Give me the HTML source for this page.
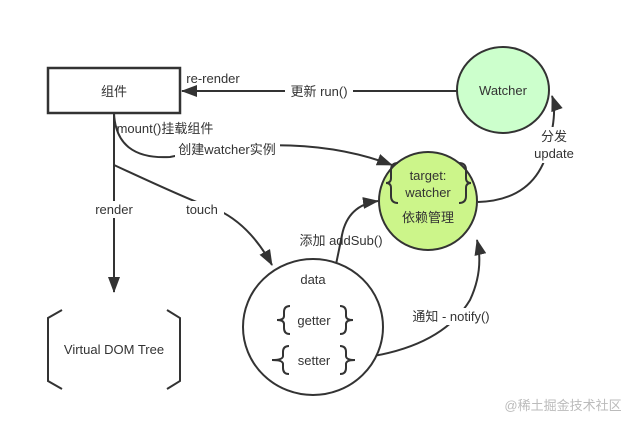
<!DOCTYPE html>
<html><head><meta charset="utf-8"><style>
body{margin:0;background:#fff}
svg{display:block}
text{font-family:"Liberation Sans","Noto Sans CJK SC",sans-serif;fill:#333;font-size:13px}
</style></head><body>
<svg width="635" height="427" viewBox="0 0 635 427" xmlns="http://www.w3.org/2000/svg">
<defs><marker id="a" markerWidth="10" markerHeight="10" refX="9" refY="5" orient="auto" markerUnits="userSpaceOnUse"><path d="M0,0 L10,5 L0,10 Z" fill="#333"/></marker>
<marker id="b" markerWidth="16" markerHeight="12" refX="15" refY="6" orient="auto" markerUnits="userSpaceOnUse"><path d="M0,0 L16,6 L0,12 Z" fill="#333"/></marker></defs>
<g stroke="#333" stroke-width="2" fill="none">
<rect x="48" y="68" width="132" height="45" stroke-width="2.5"/>
<line x1="457" y1="91" x2="182" y2="91" marker-end="url(#b)"/>
<line x1="114" y1="113" x2="114" y2="292" marker-end="url(#b)"/>
<path d="M114,113 Q116,160 170,157 Q300,130 392,165" marker-end="url(#b)"/>
<path d="M114,165 Q200,205 218,210 Q250,225 272,265" marker-end="url(#b)"/>
<path d="M326,311 Q335,270 342,235 Q348,205 378,201" marker-end="url(#b)"/>
<path d="M352,359 Q440,350 470,300 Q484,270 477,240" marker-end="url(#b)"/>
<path d="M478,202 Q540,200 550,140 Q557,110 552,96" marker-end="url(#b)"/>
<path d="M62,310 L48,318 L48,381 L62,389 M167,310 L180,318 L180,381 L167,389"/>
</g>
<ellipse cx="503" cy="90" rx="46" ry="43" fill="#ccffcc" stroke="#333" stroke-width="2"/>
<circle cx="428" cy="201" r="49" fill="#ccf58a" stroke="#333" stroke-width="2"/>
<ellipse cx="313" cy="327" rx="70" ry="68" fill="#fff" stroke="#333" stroke-width="2"/>
<g stroke="#333" stroke-width="2" fill="none">
<path d="M398,163 Q391,163 391,170 L391,178 Q391,183 386,183 Q391,183 391,188 L391,196 Q391,203 398,203"/>
<path d="M459,163 Q466,163 466,170 L466,178 Q466,183 471,183 Q466,183 466,188 L466,196 Q466,203 459,203"/>
<path d="M290,306 Q284,306 284,312 L284,316 Q284,320 277,320 Q284,320 284,324 L284,328 Q284,334 290,334"/>
<path d="M340,306 Q346,306 346,312 L346,316 Q346,320 353,320 Q346,320 346,324 L346,328 Q346,334 340,334"/>
<path d="M289,346 Q283,346 283,352 L283,356 Q283,360 272,360 Q283,360 283,364 L283,368 Q283,374 289,374"/>
<path d="M340,346 Q346,346 346,352 L346,356 Q346,360 355,360 Q346,360 346,364 L346,368 Q346,374 340,374"/>
</g>
<rect x="285" y="82" width="68" height="17" fill="#fff"/>
<rect x="175" y="141" width="105" height="17" fill="#fff"/>
<rect x="85" y="201" width="54" height="17" fill="#fff"/>
<rect x="180" y="201" width="44" height="17" fill="#fff"/>
<rect x="532" y="127" width="46" height="36" fill="#fff"/>
<rect x="404" y="308" width="94" height="17" fill="#fff"/>
<g text-anchor="middle">
<text x="114" y="96">组件</text>
<text x="213" y="83">re-render</text>
<text x="319" y="96">更新 run()</text>
<text x="503" y="95">Watcher</text>
<text x="165" y="133">mount()挂载组件</text>
<text x="227" y="154">创建watcher实例</text>
<text x="114" y="214">render</text>
<text x="202" y="214">touch</text>
<text x="554" y="141">分发</text>
<text x="554" y="158">update</text>
<text x="428" y="180" font-size="14">target:</text>
<text x="428" y="197" font-size="14">watcher</text>
<text x="428" y="222" font-size="12">依赖管理</text>
<text x="341" y="245">添加 addSub()</text>
<text x="313" y="284" font-size="17">data</text>
<text x="314" y="325">getter</text>
<text x="314" y="365">setter</text>
<text x="451" y="321">通知 - notify()</text>
<text x="114" y="354">Virtual DOM Tree</text>
<text x="563" y="410" style="fill:#bbb" font-size="14">@稀土掘金技术社区</text>
</g>
</svg>
</body></html>
